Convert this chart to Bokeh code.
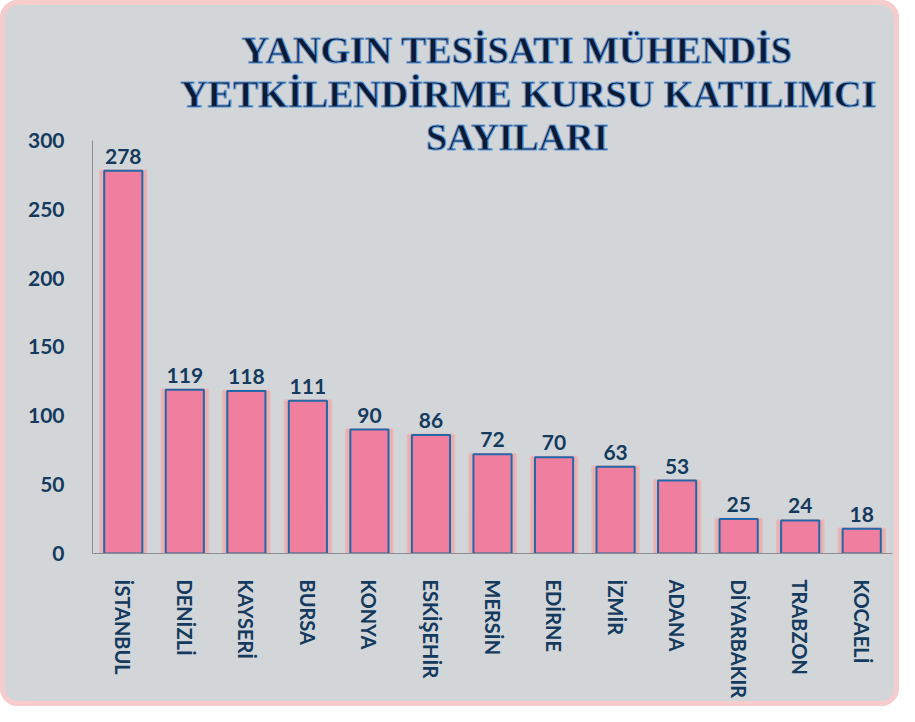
from bokeh.plotting import figure
from bokeh.models import ColumnDataSource, LabelSet, Label, FactorRange
from bokeh.core.properties import value
from bokeh.embed import file_html
from bokeh.resources import INLINE

cities = ['İSTANBUL', 'DENİZLİ', 'KAYSERİ', 'BURSA', 'KONYA', 'ESKİŞEHİR', 'MERSİN',
          'EDİRNE', 'İZMİR', 'ADANA', 'DİYARBAKIR', 'TRABZON', 'KOCAELİ']
counts = [278, 119, 118, 111, 90, 86, 72, 70, 63, 53, 25, 24, 18]
y_ticks = [0, 50, 100, 150, 200, 250, 300]
title_lines = ["YANGIN TESİSATI MÜHENDİS", "YETKİLENDİRME KURSU KATILIMCI", "SAYILARI"]

NAVY = "#143a5e"
src = ColumnDataSource(dict(city=cities, count=counts, label=[str(c) for c in counts]))

p = figure(width=899, height=706, x_range=FactorRange(*cities, range_padding=0),
           y_range=(0, 394.4), output_backend="svg", toolbar_location=None,
           min_border_left=92, min_border_right=7, min_border_top=10, min_border_bottom=153)
p.border_fill_color = None
p.background_fill_color = None
p.outline_line_color = None
p.styles = {"background-color": "#d3d6d9", "border-radius": "18px",
            "box-shadow": "inset 0 0 0 5px #f6cccc"}

# glow behind bars
p.vbar(x='city', top='count', width=0.74, source=src, fill_color="#f29090",
       fill_alpha=0.5, line_color="#f4a8a8", line_width=3, line_alpha=0.6)
p.vbar(x='city', top='count', width=0.62, source=src, fill_color="#f07f9f",
       line_color="#2268a8", line_width=2)

labels = LabelSet(x='city', y='count', text='label', source=src, text_align='center',
                  text_baseline='bottom', y_offset=7, text_font=value("Lato"),
                  text_font_style="bold", text_font_size="21px", text_color=NAVY)
p.add_layout(labels)

for t, xv, yv in zip(title_lines, [6.9, 7.08, 6.9], [365.4, 333.4, 302.2]):
    p.add_layout(Label(x=xv, y=yv, text=t, text_align='center', text_baseline='middle',
                       text_font="Liberation Serif", text_font_style="bold",
                       text_font_size="38px", text_color="#0c1a33",
                       text_outline_color="#5f97d6"))

p.xgrid.grid_line_color = None
p.ygrid.grid_line_color = None
p.yaxis.ticker = y_ticks
p.yaxis.bounds = (0, 300)
p.yaxis.major_tick_line_color = None
p.yaxis.minor_tick_line_color = None
p.yaxis.axis_line_color = "#8a8d90"
p.yaxis.major_label_standoff = 22
p.yaxis.major_label_text_font = "Lato"
p.yaxis.major_label_text_font_style = "bold"
p.yaxis.major_label_text_font_size = "21px"
p.yaxis.major_label_text_color = NAVY

p.xaxis.axis_line_color = "#8a8d90"
p.xaxis.major_tick_line_color = None
p.xaxis.minor_tick_line_color = None
p.xaxis.major_label_orientation = "vertical"
p.xaxis.major_label_standoff = 20
p.xaxis.major_label_text_font = "Lato"
p.xaxis.major_label_text_font_style = "bold"
p.xaxis.major_label_text_font_size = "20px"
p.xaxis.major_label_text_color = NAVY

open("out.html", "w").write(file_html(p, INLINE))
